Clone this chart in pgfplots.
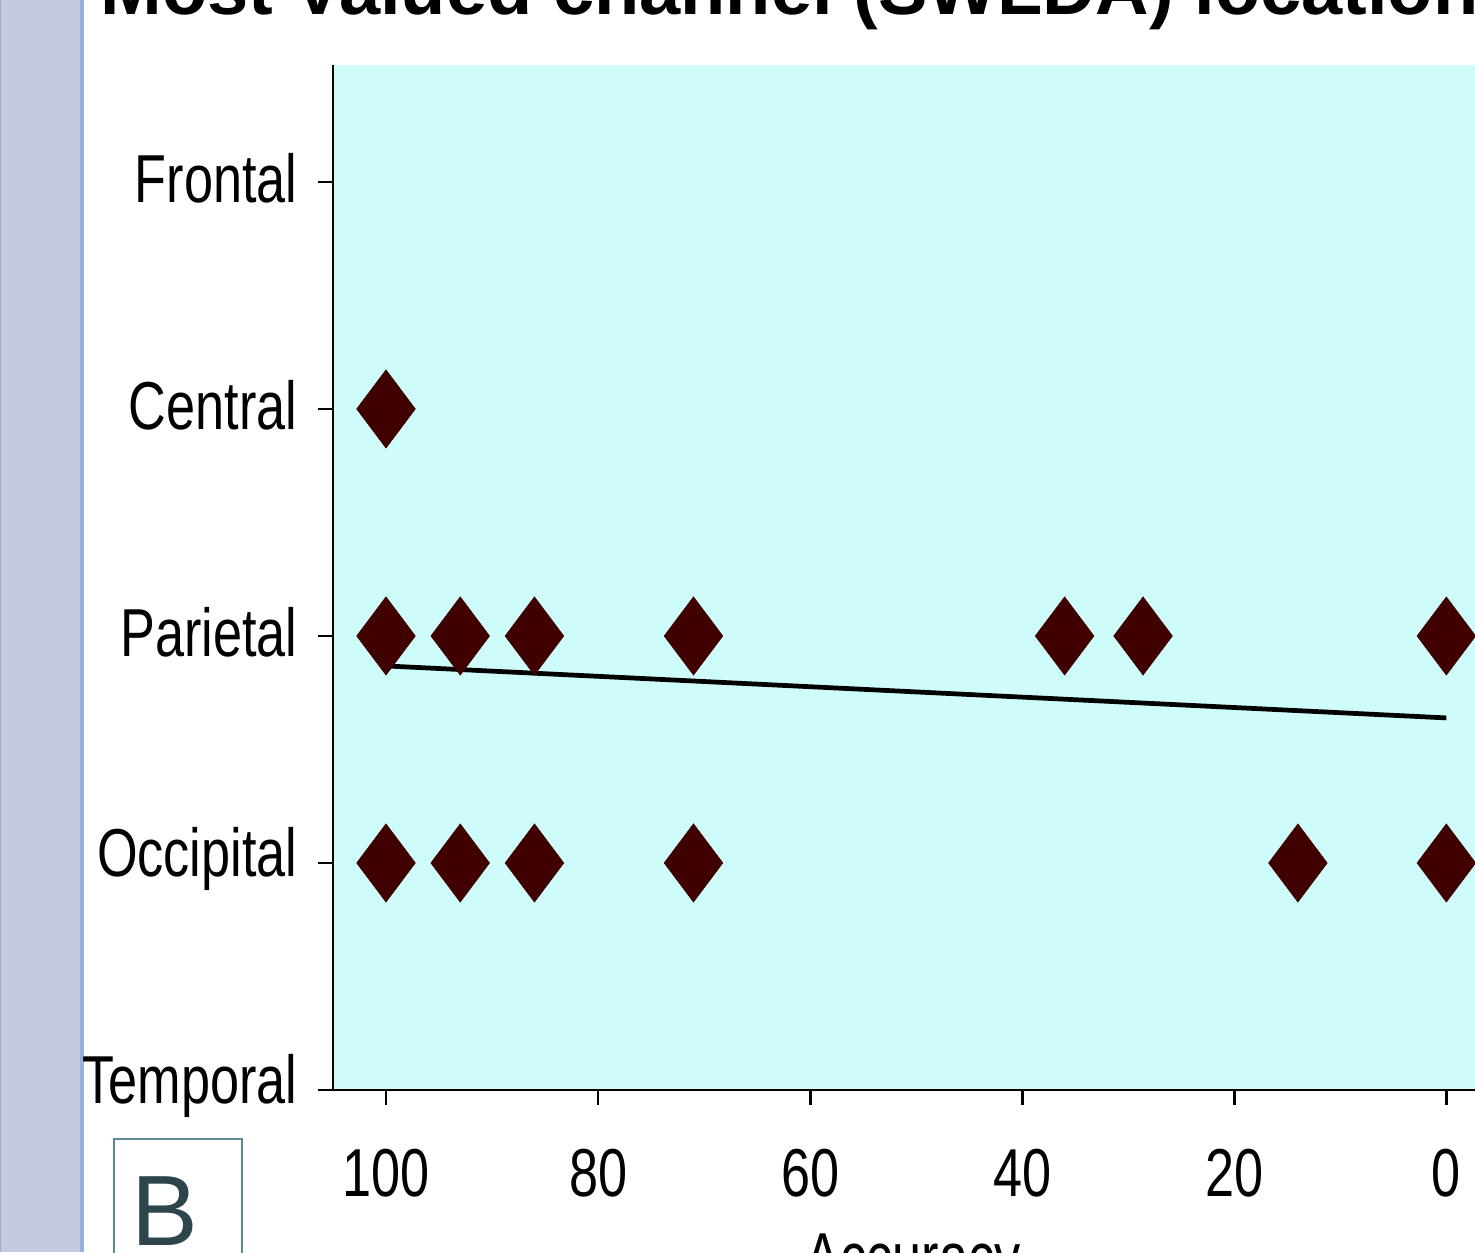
\documentclass[border=0pt]{standalone}
\usepackage{pgfplots}
\pgfplotsset{compat=1.18}
\usepackage{fontspec}
\setmainfont{Liberation Sans}
\newfontfamily\narrow[FakeStretch=0.77]{Liberation Sans}
\definecolor{bgc}{RGB}{206,252,250}
\definecolor{mk}{RGB}{64,0,0}
\definecolor{strip}{RGB}{196,202,223}
\definecolor{stripline}{RGB}{150,176,222}
\definecolor{boxc}{RGB}{91,138,150}
\definecolor{bc}{RGB}{45,70,75}
\begin{document}
\begin{tikzpicture}
\useasboundingbox (0,0) rectangle (14.75,12.52);
\clip (0,0) rectangle (14.75,12.52);
\fill[white] (0,0) rectangle (14.75,12.52);
\fill[strip] (0,0) rectangle (0.81,12.52);
\fill[stripline] (0.80,0) rectangle (0.84,12.52);
\fill[stripline] (0,0) rectangle (0.015,12.52);
\node[anchor=base west, inner sep=0pt, font=\bfseries\fontsize{21.06pt}{24pt}\selectfont] at (1.00,12.37) {Most Valued channel (SWLDA) location};
\draw[boxc, line width=0.8pt] (1.14,-0.5) rectangle (2.42,1.13);
\node[anchor=base west, inner sep=0pt, text=bc, font=\fontsize{28.45pt}{30pt}\selectfont] at (1.31,0.07) {B};
\begin{axis}[
  at={(3.33cm,1.62cm)}, anchor=south west,
  scale only axis, width=11.6cm, height=10.25cm,
  x dir=reverse, xmin=-4.4, xmax=105, ymin=0, ymax=4.515,
  axis lines*=left,
  axis line style={line width=0.8pt, black},
  axis background/.style={fill=bgc},
  tick align=outside, major tick length=0.15cm,
  tick style={line width=0.8pt, black},
  xtick={0,20,40,60,80,100},
  ytick={0,1,2,3,4},
  yticklabels={Temporal,Occipital,Parietal,Central,Frontal},
  ticklabel style={font=\narrow\fontsize{19.3pt}{20pt}\selectfont},
  /pgf/number format/assume math mode=true,
  yticklabel style={anchor=east, inner sep=0pt, xshift=-0.2cm, yshift=0.04cm},
  xticklabel style={anchor=north, inner sep=0pt, yshift=-0.43cm},
  xlabel={Accuracy},
  xlabel style={font=\narrow\fontsize{19.3pt}{20pt}\selectfont, at={(axis description cs:0.5,0)}, anchor=base, yshift=-1.90cm},
]
\addplot[black, line width=1.35pt] coordinates {(100,1.868) (0,1.639)};
\addplot[only marks, mark=diamond*, mark size=0.39cm, mark options={draw=mk, fill=mk, line width=0.2pt}] coordinates {
(100,3)
(100,2) (93,2) (86,2) (71,2) (36,2) (28.6,2) (0,2)
(100,1) (93,1) (86,1) (71,1) (14,1) (0,1)
};
\end{axis}
\end{tikzpicture}
\end{document}
